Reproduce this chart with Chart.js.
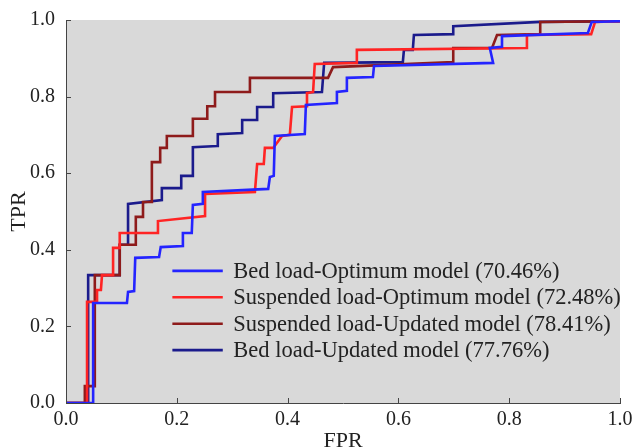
<!DOCTYPE html>
<html>
<head>
<meta charset="utf-8">
<script src="https://cdn.jsdelivr.net/npm/chart.js@4"></script>
<style>
html,body{margin:0;padding:0;background:#fff;}
#wrap{width:633px;height:448px;}
</style>
</head>
<body>
<div id="wrap"><canvas id="c" width="633" height="448"></canvas></div>
<script>
// ---- data ----
const seriesLabels = [
  "Bed load-Optimum model (70.46%)",
  "Suspended load-Optimum model (72.48%)",
  "Suspended load-Updated model (78.41%)",
  "Bed load-Updated model (77.76%)"
];
const seriesColors = ["#2424ff", "#ff2424", "#8e1b1b", "#1b1b8c"];

const bedOptFPR = [0,0.049,0.049,0.110,0.112,0.123,0.125,0.168,0.171,0.211,0.211,0.227,0.229,0.247,0.247,0.365,0.368,0.375,0.377,0.431,0.433,0.489,0.489,0.507,0.507,0.554,0.556,0.771,0.765,0.787,0.787,0.942,0.949,1.0];
const bedOptTPR = [0,0,0.261,0.261,0.290,0.292,0.379,0.381,0.407,0.410,0.444,0.444,0.517,0.520,0.551,0.559,0.590,0.593,0.697,0.702,0.778,0.783,0.812,0.815,0.849,0.851,0.880,0.888,0.927,0.930,0.958,0.966,0.995,0.997];

const susOptFPR = [0,0.038,0.038,0.056,0.056,0.063,0.065,0.085,0.085,0.097,0.097,0.166,0.166,0.251,0.251,0.341,0.345,0.357,0.359,0.374,0.390,0.404,0.408,0.435,0.435,0.446,0.449,0.525,0.525,0.832,0.832,0.948,0.955,1.0];
const susOptTPR = [0,0,0.264,0.264,0.295,0.295,0.334,0.334,0.405,0.405,0.444,0.444,0.475,0.488,0.546,0.551,0.624,0.624,0.666,0.666,0.697,0.700,0.773,0.775,0.809,0.812,0.885,0.888,0.922,0.927,0.961,0.963,0.995,0.997];

const susUpdFPR = [0,0.034,0.034,0.052,0.052,0.097,0.097,0.126,0.126,0.139,0.139,0.155,0.155,0.170,0.170,0.182,0.182,0.229,0.229,0.255,0.255,0.269,0.269,0.332,0.332,0.473,0.482,0.699,0.699,0.769,0.778,0.856,0.856,1.0];
const susUpdTPR = [0,0,0.044,0.044,0.334,0.334,0.413,0.413,0.486,0.486,0.525,0.525,0.629,0.629,0.666,0.666,0.697,0.697,0.742,0.742,0.775,0.775,0.812,0.812,0.849,0.849,0.877,0.890,0.927,0.927,0.961,0.963,0.995,0.997];

const bedUpdFPR = [0,0.040,0.040,0.097,0.097,0.112,0.112,0.173,0.173,0.208,0.208,0.229,0.229,0.273,0.274,0.318,0.318,0.345,0.345,0.374,0.374,0.462,0.466,0.608,0.610,0.626,0.628,0.699,0.699,0.856,1.0];
const bedUpdTPR = [0,0,0.334,0.334,0.413,0.413,0.520,0.530,0.561,0.561,0.593,0.593,0.668,0.671,0.702,0.705,0.739,0.739,0.773,0.773,0.809,0.812,0.888,0.890,0.922,0.922,0.961,0.963,0.984,0.995,0.997];

const tickValues = [0, 0.2, 0.4, 0.6, 0.8, 1.0];
const xTitle = "FPR";
const yTitle = "TPR";

// ---- build ----
function pts(xs, ys){ return xs.map((x,i)=>({x:x, y:ys[i]})); }
const allX = [bedOptFPR, susOptFPR, susUpdFPR, bedUpdFPR];
const allY = [bedOptTPR, susOptTPR, susUpdTPR, bedUpdTPR];

const datasets = seriesLabels.map((lab,i)=>({
  label: lab,
  data: pts(allX[i], allY[i]),
  borderColor: seriesColors[i],
  backgroundColor: seriesColors[i],
  borderWidth: 2.6,
  pointRadius: 0,
  tension: 0,
  fill: false
}));

const SERIF = "'Liberation Serif','Times New Roman',serif";

const plotBg = {
  id: 'plotBg',
  beforeDraw(chart){
    const {ctx, chartArea:a} = chart;
    ctx.save();
    ctx.fillStyle = '#d9d9d9';
    ctx.fillRect(a.left, a.top, a.right - a.left, a.bottom - a.top);
    ctx.restore();
  }
};

const innerTicks = {
  id: 'innerTicks',
  afterDraw(chart){
    const {ctx, chartArea:a, scales} = chart;
    ctx.save();
    ctx.strokeStyle = '#444';
    ctx.lineWidth = 1;
    tickValues.forEach(v=>{
      const px = Math.round(scales.x.getPixelForValue(v)) + 0.5;
      ctx.beginPath(); ctx.moveTo(px, a.bottom); ctx.lineTo(px, a.bottom - 5); ctx.stroke();
      const py = Math.round(scales.y.getPixelForValue(v)) + 0.5;
      ctx.beginPath(); ctx.moveTo(a.left, py); ctx.lineTo(a.left + 5, py); ctx.stroke();
    });
    ctx.restore();
  }
};

const innerLegend = {
  id: 'innerLegend',
  afterDatasetsDraw(chart){
    const {ctx, scales} = chart;
    const x0 = scales.x.getPixelForValue(0.192);
    const x1 = scales.x.getPixelForValue(0.283);
    const tx = scales.x.getPixelForValue(0.302);
    const rows = [0.345, 0.276, 0.207, 0.138];
    ctx.save();
    ctx.font = "22.5px " + SERIF;
    ctx.textBaseline = 'middle';
    ctx.fillStyle = '#222';
    chart.data.datasets.forEach((ds,i)=>{
      const y = scales.y.getPixelForValue(rows[i]);
      ctx.strokeStyle = ds.borderColor;
      ctx.lineWidth = 2.6;
      ctx.beginPath(); ctx.moveTo(x0, y); ctx.lineTo(x1, y); ctx.stroke();
      ctx.fillText(ds.label, tx, y + 1);
    });
    ctx.restore();
  }
};

new Chart(document.getElementById('c'), {
  type: 'line',
  data: { datasets },
  plugins: [plotBg, innerTicks, innerLegend],
  options: {
    responsive: false,
    animation: false,
    layout: { padding: { top: 20, right: 13, left: 0, bottom: 0 } },
    plugins: { legend: { display: false }, tooltip: { enabled: false } },
    scales: {
      x: {
        type: 'linear', min: 0, max: 1,
        afterBuildTicks(s){ s.ticks = tickValues.map(v=>({value:v})); },
        afterFit(s){ s.height = 45; s.paddingLeft = 0; s.paddingRight = 0; },
        grid: { display: false, drawTicks: false },
        border: { display: true, color: '#444', width: 1 },
        ticks: { padding: 5, color: '#222', font: { family: SERIF, size: 20 }, maxRotation: 0,
                 callback: v => Number(v).toFixed(1) },
        title: { display: true, text: xTitle, color: '#222', font: { family: SERIF, size: 22 }, padding: { top: 0, bottom: -6 } }
      },
      y: {
        type: 'linear', min: 0, max: 1,
        afterBuildTicks(s){ s.ticks = tickValues.map(v=>({value:v})); },
        afterFit(s){ s.width = 66; s.paddingTop = 0; s.paddingBottom = 0; },
        grid: { display: false, drawTicks: false },
        border: { display: true, color: '#444', width: 1 },
        ticks: { padding: 11, color: '#222', font: { family: SERIF, size: 20 },
                 callback: v => Number(v).toFixed(1) },
        title: { display: true, text: yTitle, color: '#222', font: { family: SERIF, size: 22 }, padding: { top: 6, bottom: 0 } }
      }
    }
  }
});
</script>
</body>
</html>
